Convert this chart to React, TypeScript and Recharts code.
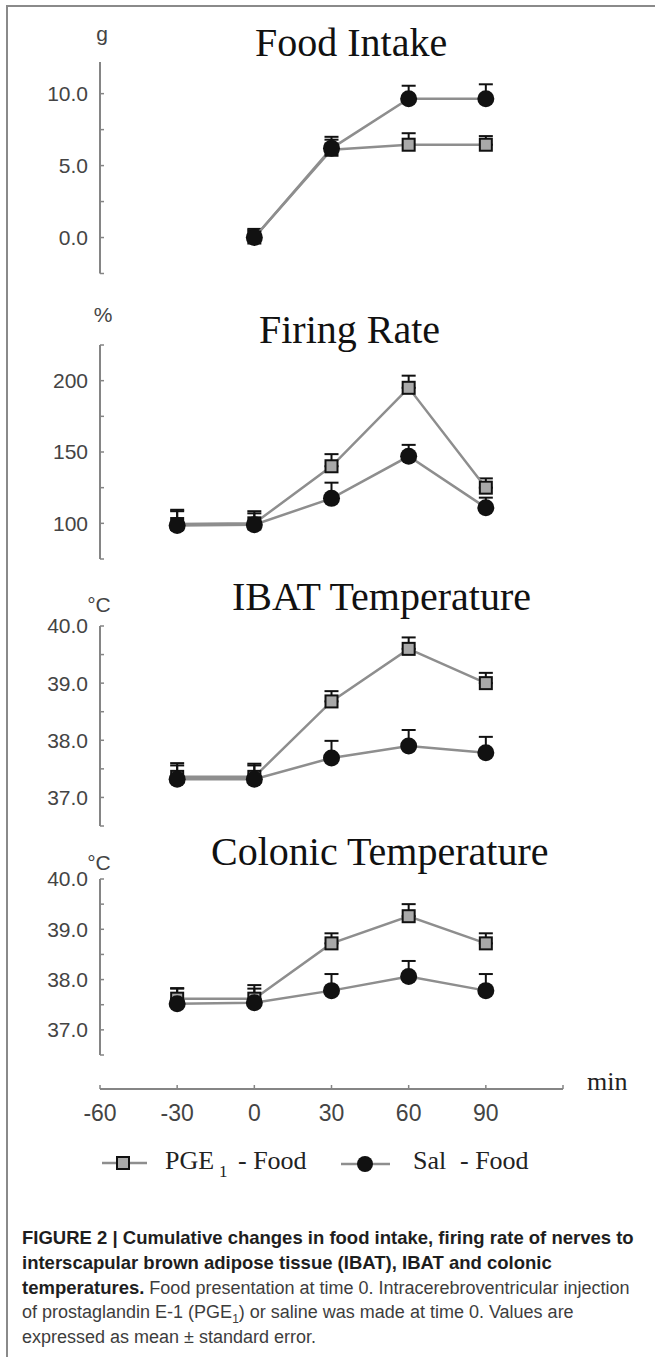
import React from "react";
import { LineChart, Line, XAxis, YAxis, ErrorBar } from "recharts";

// time points (min)
const times = [-30, 0, 30, 60, 90];
const foodTimes = [0, 30, 60, 90];

// Food intake (g), cumulative
const foodPge = [0, 6.1, 6.45, 6.45];
const foodPgeErr = [0.5, 0.7, 0.8, 0.6];
const foodSal = [0, 6.2, 9.65, 9.65];
const foodSalErr = [0.6, 0.8, 0.9, 1.0];

// Firing rate (%)
const firingPge = [99.5, 100, 140, 195, 125];
const firingPgeErr = [9, 7, 8.5, 8.5, 6.5];
const firingSal = [98.5, 99, 117.5, 147, 111];
const firingSalErr = [11, 9.5, 11, 8, 7];

// IBAT temperature (°C)
const ibatPge = [37.36, 37.36, 38.68, 39.6, 39.0];
const ibatPgeErr = [0.2, 0.2, 0.18, 0.2, 0.18];
const ibatSal = [37.32, 37.32, 37.69, 37.9, 37.78];
const ibatSalErr = [0.28, 0.27, 0.3, 0.28, 0.28];

// Colonic temperature (°C)
const colonPge = [37.62, 37.62, 38.72, 39.26, 38.72];
const colonPgeErr = [0.2, 0.2, 0.2, 0.24, 0.2];
const colonSal = [37.52, 37.54, 37.78, 38.06, 37.78];
const colonSalErr = [0.31, 0.35, 0.33, 0.31, 0.33];

const xTicks = [-60, -30, 0, 30, 60, 90, 120];
const xLabels = [-60, -30, 0, 30, 60, 90];

const foodTicks = [-2.5, 0, 2.5, 5, 7.5, 10];
const foodLabels = [0, 5, 10];
const firingTicks = [75, 100, 125, 150, 175, 200, 225];
const firingLabels = [100, 150, 200];
const tempTicks = [36.5, 37, 37.5, 38, 38.5, 39, 39.5, 40];
const tempLabels = [37, 38, 39, 40];

const W = 655;
const AXIS_X = 100;
const PLOT_RIGHT = 563;
const X_DOMAIN = [-60, 120];

const AXIS_GRAY = "#858585";
const LINE_GRAY = "#8e8e8e";
const LABEL_FILL = "#444";
const SANS = "'Liberation Sans', Arial, sans-serif";
const SERIF = "'Liberation Serif', 'Times New Roman', serif";

const rows = (t: number[], pge: number[], pgeErr: number[], sal: number[], salErr: number[]) =>
  t.map((v, i) => ({
    t: v,
    pge: pge[i],
    pgeErr: [0, pgeErr[i]],
    sal: sal[i],
    salErr: [0, salErr[i]],
  }));

const SquareDot = (props: any) => {
  const { cx, cy, index } = props;
  if (cx == null || cy == null) return <g key={`sq-${index}`} />;
  return (
    <rect key={`sq-${index}`} x={cx - 6} y={cy - 6} width={12} height={12} fill="#a9a9a9" stroke="#111" strokeWidth={2} />
  );
};

const CircleDot = (props: any) => {
  const { cx, cy, index } = props;
  if (cx == null || cy == null) return <g key={`ci-${index}`} />;
  return <circle key={`ci-${index}`} cx={cx} cy={cy} r={8.5} fill="#111" />;
};

type PanelProps = {
  data: any[];
  top: number;
  plotHeight: number;
  domain: number[];
  ticks: number[];
  labels: number[];
  digits: number;
};

const Panel = ({ data, top, plotHeight, domain, ticks, labels, digits }: PanelProps) => {
  const pad = 14;
  return (
    <div style={{ position: "absolute", left: 0, top: top - pad }}>
      <LineChart
        width={W}
        height={plotHeight + pad * 2}
        data={data}
        margin={{ top: pad, right: W - PLOT_RIGHT, bottom: pad, left: 0 }}
      >
        <XAxis dataKey="t" type="number" domain={X_DOMAIN} hide />
        <YAxis
          type="number"
          domain={domain}
          ticks={ticks}
          width={AXIS_X}
          interval={0}
          allowDataOverflow
          axisLine={{ stroke: AXIS_GRAY, strokeWidth: 2 }}
          tickLine={{ stroke: AXIS_GRAY, strokeWidth: 1.5 }}
          tickSize={-4}
          tickMargin={16}
          tick={{ fill: LABEL_FILL, fontSize: 21, fontFamily: SANS }}
          tickFormatter={(v: number) => (labels.includes(v) ? v.toFixed(digits) : "")}
        />
        <Line
          dataKey="pge"
          stroke={LINE_GRAY}
          strokeWidth={2.5}
          dot={SquareDot}
          activeDot={false}
          isAnimationActive={false}
        >
          <ErrorBar dataKey="pgeErr" width={7} stroke="#111" strokeWidth={2} direction="y" />
        </Line>
        <Line
          dataKey="sal"
          stroke={LINE_GRAY}
          strokeWidth={2.5}
          dot={CircleDot}
          activeDot={false}
          isAnimationActive={false}
        >
          <ErrorBar dataKey="salErr" width={7} stroke="#111" strokeWidth={2} direction="y" />
        </Line>
      </LineChart>
    </div>
  );
};

const TimeAxis = () => (
  <div style={{ position: "absolute", left: 0, top: 1039 }}>
    <LineChart
      width={W}
      height={100}
      data={times.map((t) => ({ t }))}
      margin={{ top: 0, right: W - PLOT_RIGHT, bottom: 0, left: AXIS_X }}
    >
      <YAxis hide />
      <XAxis
        dataKey="t"
        type="number"
        domain={X_DOMAIN}
        ticks={xTicks}
        interval={0}
        height={50}
        axisLine={{ stroke: AXIS_GRAY, strokeWidth: 2 }}
        tickLine={{ stroke: AXIS_GRAY, strokeWidth: 1.5 }}
        tickSize={-4}
        tickMargin={20}
        tick={{ fill: LABEL_FILL, fontSize: 23, fontFamily: SANS }}
        tickFormatter={(v: number) => (xLabels.includes(v) ? String(v) : "")}
      />
    </LineChart>
  </div>
);

const Annotations = () => (
  <svg width={W} height={1357} style={{ position: "absolute", left: 0, top: 0, pointerEvents: "none" }}>
    <g fontFamily={SERIF} fill="#111" fontSize={40}>
      <text x={255} y={56}>Food Intake</text>
      <text x={259} y={343}>Firing Rate</text>
      <text x={232} y={610}>IBAT Temperature</text>
      <text x={211} y={865}>Colonic Temperature</text>
    </g>
    <g fontFamily={SANS} fill={LABEL_FILL} fontSize={21} textAnchor="middle">
      <text x={102} y={41}>g</text>
      <text x={103} y={322}>%</text>
      <text x={99} y={612}>°C</text>
      <text x={99} y={870}>°C</text>
    </g>
    <text x={587} y={1090} fontFamily={SERIF} fontSize={26} fill="#222">min</text>
    {/* legend */}
    <line x1={102} y1={1163} x2={147} y2={1163} stroke={LINE_GRAY} strokeWidth={2.5} />
    <rect x={117} y={1157} width={12} height={12} fill="#a9a9a9" stroke="#111" strokeWidth={2} />
    <g fontFamily={SERIF} fill="#222" fontSize={26}>
      <text x={165} y={1169}>PGE</text>
      <text x={219} y={1177} fontSize={17}>1</text>
      <text x={238} y={1169}>- Food</text>
      <text x={413} y={1169}>Sal</text>
      <text x={460} y={1169}>- Food</text>
    </g>
    <line x1={341} y1={1164} x2={390} y2={1164} stroke={LINE_GRAY} strokeWidth={2.5} />
    <circle cx={365} cy={1164} r={8} fill="#111" />
  </svg>
);

const captionLine: React.CSSProperties = {
  position: "absolute",
  left: 22,
  whiteSpace: "nowrap",
  fontFamily: SANS,
  fontSize: 18,
  lineHeight: "25px",
  color: "#3d3d3d",
};

const boldLine: React.CSSProperties = { ...captionLine, fontWeight: 700, color: "#1e1e1e", fontSize: 18.5 };

const Caption = () => (
  <>
    <div style={{ ...boldLine, top: 1225 }}>
      FIGURE 2 | Cumulative changes in food intake, firing rate of nerves to
    </div>
    <div style={{ ...boldLine, top: 1250 }}>
      interscapular brown adipose tissue (IBAT), IBAT and colonic
    </div>
    <div style={{ ...captionLine, top: 1275 }}>
      <b style={{ color: "#1e1e1e", fontSize: 18.5 }}>temperatures.</b> Food presentation at time 0. Intracerebroventricular injection
    </div>
    <div style={{ ...captionLine, top: 1300 }}>
      of prostaglandin E-1 (PGE<sub style={{ fontSize: 12 }}>1</sub>) or saline was made at time 0. Values are
    </div>
    <div style={{ ...captionLine, top: 1325 }}>expressed as mean ± standard error.</div>
  </>
);

export default function App() {
  const food = rows(foodTimes, foodPge, foodPgeErr, foodSal, foodSalErr);
  const firing = rows(times, firingPge, firingPgeErr, firingSal, firingSalErr);
  const ibat = rows(times, ibatPge, ibatPgeErr, ibatSal, ibatSalErr);
  const colon = rows(times, colonPge, colonPgeErr, colonSal, colonSalErr);

  return (
    <div style={{ position: "absolute", left: 0, top: 0, width: W, height: 1357, background: "#fff", overflow: "hidden" }}>
      <div
        style={{
          position: "absolute",
          left: 6,
          top: 5,
          width: W - 6,
          height: 1352,
          borderTop: "2px solid #8a8a8a",
          borderLeft: "2px solid #8a8a8a",
          boxSizing: "border-box",
        }}
      />
      <Panel data={food} top={62} plotHeight={211.5} domain={[-2.5, 12.2]} ticks={foodTicks} labels={foodLabels} digits={1} />
      <Panel data={firing} top={345} plotHeight={214} domain={[75, 225]} ticks={firingTicks} labels={firingLabels} digits={0} />
      <Panel data={ibat} top={626} plotHeight={200} domain={[36.5, 40]} ticks={tempTicks} labels={tempLabels} digits={1} />
      <Panel data={colon} top={879} plotHeight={176} domain={[36.5, 40]} ticks={tempTicks} labels={tempLabels} digits={1} />
      <TimeAxis />
      <Annotations />
      <Caption />
    </div>
  );
}
